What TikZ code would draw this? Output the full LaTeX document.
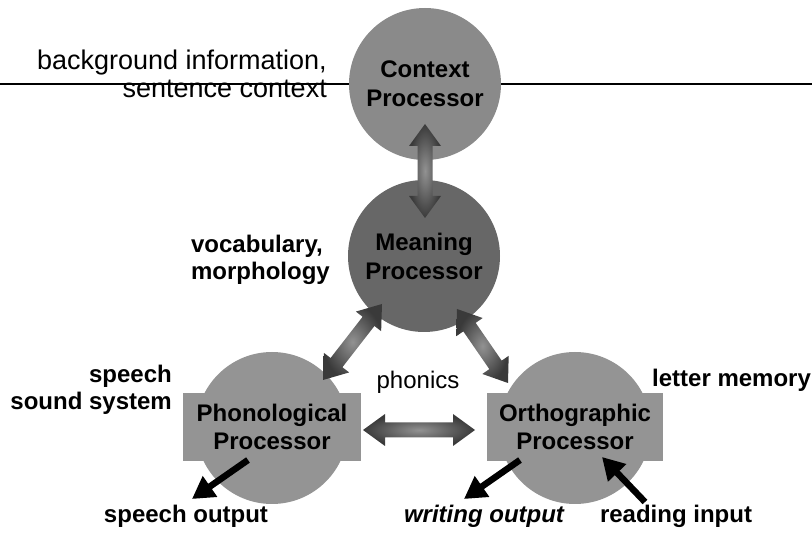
\documentclass[tikz,border=0pt]{standalone}
\usepackage{fontspec}
\setmainfont{Liberation Sans}
\usetikzlibrary{calc,arrows.meta}
\definecolor{ctxgray}{HTML}{8A8A8A}
\definecolor{mngray}{HTML}{676767}
\definecolor{lowgray}{HTML}{949494}
\definecolor{arrdark}{HTML}{3A3A3A}
\definecolor{arrlight}{HTML}{929292}
\newcommand\fatarr[3]{%
 \coordinate (#3p) at ($(#1)!22pt!(#2)$);
 \coordinate (#3q) at ($(#2)!22pt!(#1)$);
 \shade[fatshade] (#1) -- ($(#3p)!16pt!90:(#2)$) -- ($(#3p)!7.5pt!90:(#2)$)
   -- ($(#3q)!7.5pt!90:(#2)$) -- ($(#3q)!16pt!90:(#2)$) -- (#2)
   -- ($(#3q)!16pt!-90:(#2)$) -- ($(#3q)!7.5pt!-90:(#2)$)
   -- ($(#3p)!7.5pt!-90:(#2)$) -- ($(#3p)!16pt!-90:(#2)$) -- cycle;}
\begin{document}
\begin{tikzpicture}[x=1pt,y=-1pt,
  proc/.style={circle,minimum size=152,inner sep=0,align=center,
    font=\fontsize{24}{29}\selectfont\bfseries},
  procbox/.style={rectangle,fill=lowgray,inner sep=0,align=center,
    minimum height=68,font=\fontsize{24}{28}\selectfont\bfseries},
  blabel/.style={inner sep=0,font=\fontsize{24}{27}\selectfont\bfseries},
  rlabel/.style={inner sep=0,font=\fontsize{24}{27}\selectfont},
  fatshade/.style={inner color=arrlight,outer color=arrdark},
  blackarr/.style={line width=6.5,-{Triangle[length=22pt,width=24pt]}}]
\useasboundingbox (0,0) rectangle (812,534);
% horizontal rule
\coordinate (hl) at (0,84);
\coordinate (hr) at (812,84);
\draw[line width=1.3] (hl) -- (hr);
% processors
\node[proc,fill=ctxgray] (ctx) at (425,84) {Context\\Processor};
\node[proc,fill=mngray] (mng) at (424,256) {Meaning\\Processor};
\node[circle,minimum size=152,inner sep=0,fill=lowgray] (phc) at (272,428) {};
\node[circle,minimum size=152,inner sep=0,fill=lowgray] (orc) at (575,428) {};
\node[procbox,minimum width=178] (phon) at (272,427) {Phonological\\Processor};
\node[procbox,minimum width=176] (orth) at (575,427) {Orthographic\\Processor};
% labels
\node[inner sep=0,anchor=east,align=right,font=\fontsize{27}{28}\selectfont] (bg) at (327,74) {background information,\\sentence context};
\node[blabel,anchor=east,align=left] (voc) at (330,260) {vocabulary,\\morphology};
\node[blabel,anchor=east,align=right] (sss) at (172,390) {speech\\sound system};
\node[blabel,anchor=west] (lm) at (652,380) {letter memory};
\node[rlabel] (phonics) at (418,382) {phonics};
\node[blabel] (so) at (186,516) {speech output};
\node[blabel] (wo) at (484,516) {\itshape writing output};
\node[blabel] (ri) at (676,516) {reading input};
% fat double arrows
\coordinate (va1) at (425,218);
\coordinate (va2) at (425,124);
\coordinate (la1) at (323,380);
\coordinate (la2) at (382,304);
\coordinate (ra1) at (508,383);
\coordinate (ra2) at (457,309);
\coordinate (ha1) at (363,430);
\coordinate (ha2) at (475,430);
\fatarr{va1}{va2}{va}
\fatarr{la1}{la2}{la}
\fatarr{ra1}{ra2}{ra}
\fatarr{ha1}{ha2}{ha}
% black arrows
\coordinate (so1) at (248,460);
\coordinate (so2) at (192,499);
\coordinate (wo1) at (520,460);
\coordinate (wo2) at (464,499);
\coordinate (ri1) at (645,502);
\coordinate (ri2) at (602,457);
\draw[blackarr] (so1) -- (so2);
\draw[blackarr] (wo1) -- (wo2);
\draw[blackarr] (ri1) -- (ri2);
\end{tikzpicture}
\end{document}
